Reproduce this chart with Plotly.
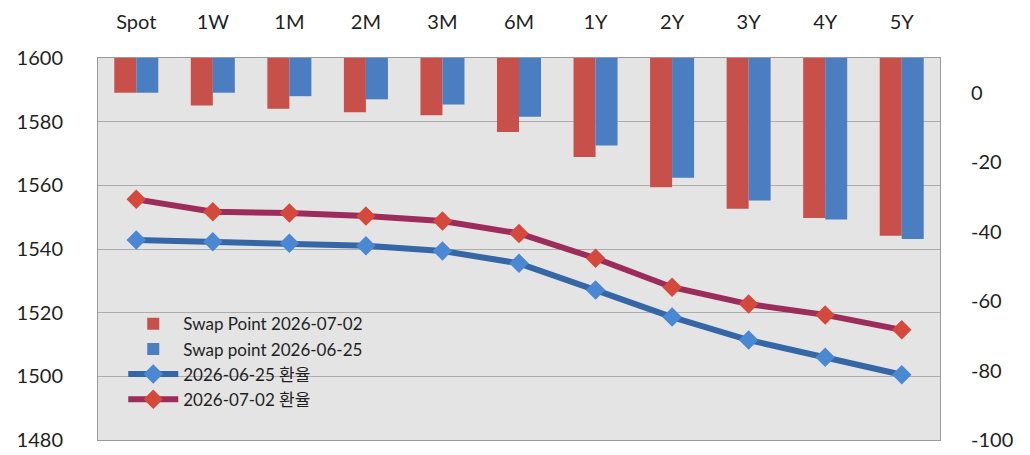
import plotly.graph_objects as go

categories = ["Spot", "1W", "1M", "2M", "3M", "6M", "1Y", "2Y", "3Y", "4Y", "5Y"]

swap_0702 = [0.0, -3.7, -4.6, -5.6, -6.5, -11.3, -18.5, -27.2, -33.4, -36.1, -41.2]
swap_0625 = [0.0, 0.0, -1.0, -1.9, -3.4, -6.9, -15.2, -24.5, -31.0, -36.5, -42.1]

rate_0625 = [1542.8, 1542.3, 1541.8, 1541.0, 1539.4, 1535.5, 1527.1, 1518.6, 1511.4, 1506.0, 1500.5]
rate_0702 = [1555.6, 1551.7, 1551.3, 1550.4, 1548.8, 1544.9, 1537.1, 1528.0, 1522.7, 1519.3, 1514.6]

left_ticks = [1480, 1500, 1520, 1540, 1560, 1580, 1600]
right_ticks = [-100, -80, -60, -40, -20, 0]

LEFT_RANGE = [1480, 1600]
RIGHT_RANGE = [-100, 10]
BAR_BASE = RIGHT_RANGE[1]  # category axis crosses at the top of the secondary axis

FONT = "Lato, 'Noto Sans CJK KR', sans-serif"
TXT = "#1f1f1f"

fig = go.Figure()

fig.add_trace(go.Bar(
    x=categories, y=[v - BAR_BASE for v in swap_0702], base=BAR_BASE,
    name="Swap Point 2026-07-02", marker=dict(color="#C8504B", line=dict(width=0)),
    yaxis="y2", offsetgroup="a",
))
fig.add_trace(go.Bar(
    x=categories, y=[v - BAR_BASE for v in swap_0625], base=BAR_BASE,
    name="Swap point 2026-06-25", marker=dict(color="#4A7EC0", line=dict(width=0)),
    yaxis="y2", offsetgroup="b",
))
fig.add_trace(go.Scatter(
    x=categories, y=rate_0625, name="2026-06-25 환율", mode="lines+markers",
    line=dict(color="#3566A5", width=6),
    marker=dict(symbol="diamond", size=15, color="#4A88D4", line=dict(width=0)),
    yaxis="y",
))
fig.add_trace(go.Scatter(
    x=categories, y=rate_0702, name="2026-07-02 환율", mode="lines+markers",
    line=dict(color="#9C2C5C", width=6),
    marker=dict(symbol="diamond", size=15, color="#D4493B", line=dict(width=0)),
    yaxis="y",
))

fig.update_layout(
    width=1030, height=455,
    margin=dict(l=98, r=90, t=58, b=15),
    paper_bgcolor="white",
    plot_bgcolor="#E4E4E4",
    barmode="group", bargap=0.425, bargroupgap=0,
    font=dict(family=FONT, size=20, color=TXT),
    showlegend=True,
    legend=dict(
        x=0.03, y=0.35, xanchor="left", yanchor="top",
        bgcolor="rgba(0,0,0,0)", borderwidth=0,
        font=dict(family=FONT, size=17, color=TXT),
        tracegroupgap=0, itemwidth=50, traceorder="normal",
    ),
    xaxis=dict(
        side="top", type="category", range=[-0.5, len(categories) - 0.5],
        showline=True, mirror=True, linecolor="#9A9A9A", linewidth=1,
        ticks="outside", ticklen=20, tickcolor="rgba(0,0,0,0)",
        tickfont=dict(size=20), showgrid=False, automargin=False,
    ),
    yaxis=dict(
        range=LEFT_RANGE, tickvals=left_ticks, ticktext=[str(v) for v in left_ticks],
        showgrid=True, gridcolor="#ADADAD", gridwidth=1, zeroline=False,
        showline=True, mirror=True, linecolor="#9A9A9A", linewidth=1,
        ticks="outside", ticklen=30, tickcolor="rgba(0,0,0,0)",
        tickfont=dict(size=20), automargin=False,
    ),
    yaxis2=dict(
        range=RIGHT_RANGE, tickvals=right_ticks, ticktext=[str(v) for v in right_ticks],
        overlaying="y", side="right",
        showgrid=False, zeroline=False, showline=False,
        ticks="outside", ticklen=26, tickcolor="rgba(0,0,0,0)",
        tickfont=dict(size=20), automargin=False,
    ),
)

fig.write_html("out.html")
